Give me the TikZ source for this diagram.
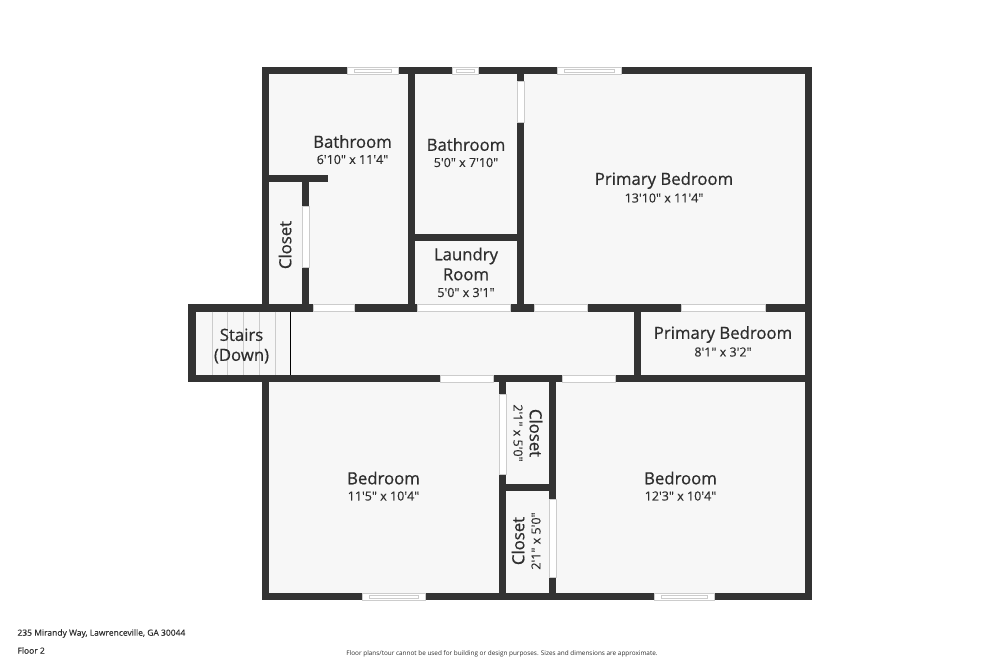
\documentclass[tikz,border=0pt]{standalone}
\usepackage{fontspec}
\setmainfont{Open Sans}
\newfontfamily\labelfont{Open Sans}[FakeBold=0.7]
\newfontfamily\sizefont{Open Sans}[FakeBold=0.25]
\usepackage{tikz}
\definecolor{wallgray}{HTML}{333333}
\definecolor{roomgray}{HTML}{F7F7F7}
\definecolor{edgegray}{HTML}{CCCCCC}
\definecolor{inkgray}{HTML}{2E2E2E}
\tikzstyle{room} = [fill=roomgray, draw=none]
\tikzstyle{wall} = [fill=wallgray, draw=none]
\tikzstyle{opening} = [fill=white, draw=edgegray, line width=0.5pt]
\tikzstyle{sash} = [fill=white, draw=edgegray, line width=0.4pt]
\tikzstyle{tread} = [draw=edgegray, line width=0.6pt]
\tikzstyle{title} = [text=inkgray, font=\fontsize{11.9}{14.2}\labelfont, align=center]
\tikzstyle{size} = [text=inkgray, font=\fontsize{8.9}{11}\sizefont]
\tikzstyle{small} = [text=inkgray, font=\fontsize{6.05}{7}\sizefont, anchor=west]

\begin{document}
\begin{tikzpicture}[x=0.025cm, y=-0.025cm]
            \useasboundingbox (0, 0) rectangle (1000, 667);

            % floor
            \fill[room] (262, 67) rectangle (812, 600);
            \fill[room] (188, 304) rectangle (262, 382);

            % outer walls
            \fill[wall] (262, 67) rectangle (812, 74);
            \fill[wall] (262, 593) rectangle (812, 600);
            \fill[wall] (262, 67) rectangle (268.5, 304);
            \fill[wall] (262, 382) rectangle (268.5, 593);
            \fill[wall] (805, 67) rectangle (812, 600);
            \fill[wall] (188, 304) rectangle (195.5, 382);

            % hall walls
            \fill[wall] (188, 304) rectangle (805, 311.5);
            \fill[wall] (188, 375) rectangle (805, 382);
            \fill[wall] (634, 311) rectangle (641, 375);

            % upper rooms
            \fill[wall] (408, 74) rectangle (415, 304);
            \fill[wall] (517, 74) rectangle (524, 304);
            \fill[wall] (415, 234) rectangle (517, 241);
            \fill[wall] (268, 175) rectangle (328, 182);
            \fill[wall] (302, 182) rectangle (309, 304);

            % lower closets
            \fill[wall] (499, 382) rectangle (506, 593);
            \fill[wall] (549, 382) rectangle (556, 593);
            \fill[wall] (506, 484) rectangle (549, 491);

            % doors
            \draw[opening] (313, 304) rectangle (354, 311.5);
            \draw[opening] (417, 304) rectangle (510, 311.5);
            \draw[opening] (534, 304) rectangle (587, 311.5);
            \draw[opening] (681, 304) rectangle (765, 311.5);
            \draw[opening] (440, 375) rectangle (493, 382);
            \draw[opening] (562, 375) rectangle (615, 382);
            \draw[opening] (517, 81) rectangle (524, 122);
            \draw[opening] (302, 206) rectangle (309, 267);
            \draw[opening] (499, 394) rectangle (506, 474);
            \draw[opening] (549, 499) rectangle (556, 577);

            % windows
            \draw[opening] (347, 67) rectangle (398, 74);
            \draw[sash] (354, 69) rectangle (391, 72);
            \draw[opening] (452, 67) rectangle (478, 74);
            \draw[sash] (456, 69) rectangle (474, 72);
            \draw[opening] (557, 67) rectangle (621, 74);
            \draw[sash] (564, 69) rectangle (614, 72);
            \draw[opening] (362, 593) rectangle (425, 600);
            \draw[sash] (369, 595) rectangle (418, 598);
            \draw[opening] (654, 593) rectangle (714, 600);
            \draw[sash] (661, 595) rectangle (707, 598);

            % stairs
            \draw[tread] (212, 311.5) -- (212, 375);
            \draw[tread] (227.5, 311.5) -- (227.5, 375);
            \draw[tread] (243, 311.5) -- (243, 375);
            \draw[tread] (259, 311.5) -- (259, 375);
            \draw[tread] (275, 311.5) -- (275, 375);
            \draw[black, line width=0.8pt] (290.5, 311.5) -- (290.5, 375);

            % labels
            \node[title, name=bath_a] at (352.5, 141.5) {Bathroom};
            \node[size, name=bath_a_size] at (352.5, 159.5) {6'10" x 11'4"};
            \node[title, name=bath_b] at (466, 144.5) {Bathroom};
            \node[size, name=bath_b_size] at (466, 162.5) {5'0" x 7'10"};
            \node[title, name=primary] at (664, 180.5) {Primary Bedroom};
            \node[size, name=primary_size] at (664, 198) {13'10" x 11'4"};
            \node[title, name=laundry] at (466, 264) {Laundry\\Room};
            \node[size, name=laundry_size] at (466, 292.5) {5'0" x 3'1"};
            \node[title, name=primary_nook] at (723, 334.5) {Primary Bedroom};
            \node[size, name=primary_nook_size] at (723, 352) {8'1" x 3'2"};
            \node[title, name=stairs] at (241.5, 346) {Stairs\\(Down)};
            \node[title, name=bed_a] at (383.5, 478) {Bedroom};
            \node[size, name=bed_a_size] at (383.5, 496) {11'5" x 10'4"};
            \node[title, name=bed_b] at (680.5, 478) {Bedroom};
            \node[size, name=bed_b_size] at (680.5, 496) {12'3" x 10'4"};
            \node[title, rotate=90, name=closet_a] at (285, 245) {Closet};
            \node[title, rotate=-90, name=closet_b] at (536, 433) {Closet};
            \node[size, rotate=-90, name=closet_b_size] at (518, 433) {2'1" x 5'0"};
            \node[title, rotate=90, name=closet_c] at (518, 541) {Closet};
            \node[size, rotate=90, name=closet_c_size] at (536, 541) {2'1" x 5'0"};

            % footer
            \node[small, name=address] at (12.5, 633.5) {235 Mirandy Way, Lawrenceville, GA 30044};
            \node[small, name=floor] at (12.5, 650.5) {Floor 2};
            \node[text=inkgray, font=\fontsize{4.55}{5}\selectfont, name=note] at (502, 653.5) {Floor plans/tour cannot be used for building or design purposes. Sizes and dimensions are approximate.};
        \end{tikzpicture}
\end{document}
